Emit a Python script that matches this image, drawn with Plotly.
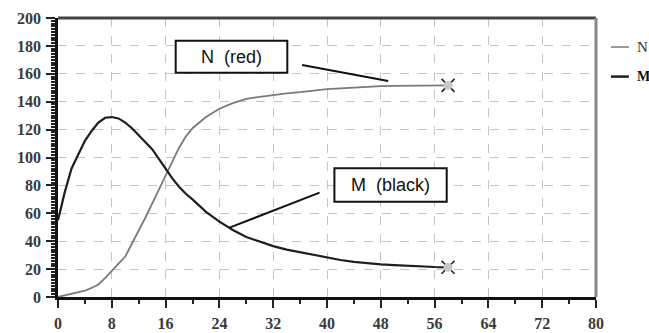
import plotly.graph_objects as go

# ---- data ----
t = [0, 1, 2, 3, 4, 5, 6, 7, 8, 9, 10, 11, 12, 13, 14, 15, 16, 17, 18, 19, 20,
     22, 24, 26, 28, 30, 32, 34, 36, 38, 40, 42, 44, 46, 48, 50, 52, 54, 56, 58]
N = [0, 1, 2, 3, 4.5, 6.5, 9, 13.5, 19, 24, 29, 38, 47, 57, 67, 77, 87, 98, 107, 115, 121,
     129, 135, 139, 142, 143.5, 145, 146, 146.8, 148, 149, 149.6, 150.2, 150.8, 151.2,
     151.3, 151.5, 151.6, 151.7, 151.7]
M = [55, 75, 92, 102, 112, 119, 125, 128.5, 129, 128, 125, 121, 116, 111, 106, 99, 92, 85,
     79, 74, 70, 61, 54, 48, 43, 39.5, 36.5, 34, 32, 30, 28, 26.5, 25.2, 24.2, 23.4,
     22.8, 22.2, 21.8, 21.5, 21.3]
x_ticks = [0, 8, 16, 24, 32, 40, 48, 56, 64, 72, 80]
y_ticks = [0, 20, 40, 60, 80, 100, 120, 140, 160, 180, 200]
series_names = ["N", "M"]
box_labels = ["N\u00a0 (red)", "M\u00a0 (black)"]

N_COLOR = "#7a7a7a"
M_COLOR = "#1e1e1e"
TICK_FONT = dict(family="Liberation Serif, serif", size=16, color="#3a3a3a", weight="bold")

fig = go.Figure()
fig.add_trace(go.Scatter(x=t, y=N, mode="lines", name=series_names[0],
                         line=dict(color=N_COLOR, width=1.8), showlegend=False))
fig.add_trace(go.Scatter(x=t, y=M, mode="lines", name=series_names[1],
                         line=dict(color=M_COLOR, width=2.2), showlegend=False))
# end markers (x marks under a grey dot -> corner marks)
for ys in (N, M):
    fig.add_trace(go.Scatter(x=[t[-1]], y=[ys[-1]], mode="markers", showlegend=False,
                             marker=dict(symbol="x-thin-open", size=13, color="#222",
                                         line=dict(width=1.6, color="#222"))))
    fig.add_trace(go.Scatter(x=[t[-1]], y=[ys[-1]], mode="markers", showlegend=False,
                             marker=dict(symbol="circle", size=9, color="#c8c8c8",
                                         line=dict(width=0))))

grid = dict(showgrid=True, gridcolor="#c4c4c4", gridwidth=1, griddash="dash")

fig.update_xaxes(range=[0, 80], tickvals=x_ticks, ticktext=[str(v) for v in x_ticks],
                 ticks="outside", ticklen=8, tickwidth=1.5, tickcolor="#222",
                 ticklabelstandoff=2,
                 showline=True, linecolor="#111", linewidth=3,
                 tickfont=TICK_FONT, zeroline=False,
                 minor=dict(dtick=4, ticks="outside", ticklen=4, tickcolor="#222", showgrid=False),
                 **grid)
fig.update_yaxes(range=[0, 200], tickvals=y_ticks, ticktext=[str(v) for v in y_ticks],
                 ticks="outside", ticklen=9, tickwidth=1.5, tickcolor="#222",
                 ticklabelstandoff=2,
                 showline=True, linecolor="#111", linewidth=2.5,
                 tickfont=TICK_FONT, zeroline=False,
                 minor=dict(dtick=2, ticks="outside", ticklen=4, tickcolor="#222", showgrid=False),
                 **grid)

shapes = [
    # top and right frame
    dict(type="line", xref="paper", yref="paper", x0=0, x1=1, y0=1, y1=1,
         line=dict(color="#444", width=3)),
    dict(type="line", xref="paper", yref="paper", x0=1, x1=1, y0=0, y1=1,
         line=dict(color="#888", width=3)),
    # label boxes
    dict(type="rect", x0=17.5, x1=34.1, y0=160.8, y1=183.7, fillcolor="white",
         line=dict(color="#111", width=2), layer="above"),
    dict(type="rect", x0=41.1, x1=57.8, y0=68.3, y1=92.3, fillcolor="white",
         line=dict(color="#111", width=2), layer="above"),
    # pointers
    dict(type="line", x0=36.3, y0=166.3, x1=49.1, y1=154.8, line=dict(color="#111", width=2)),
    dict(type="line", x0=38.9, y0=74.8, x1=25.5, y1=49.7, line=dict(color="#111", width=2)),
    # legend samples at right
    dict(type="line", xref="paper", x0=1.0278, x1=1.061, y0=179.2, y1=179.2,
         line=dict(color=N_COLOR, width=1.5)),
    dict(type="line", xref="paper", x0=1.0278, x1=1.061, y0=158.0, y1=158.0,
         line=dict(color=M_COLOR, width=2.5)),
]

annos = [
    dict(x=25.8, y=172.2, text=box_labels[0], showarrow=False,
         font=dict(family="Liberation Sans, Arial, sans-serif", size=18, color="#111")),
    dict(x=49.45, y=80.3, text=box_labels[1], showarrow=False,
         font=dict(family="Liberation Sans, Arial, sans-serif", size=18, color="#111")),
    # legend entries at right
    dict(xref="paper", x=1.0725, xanchor="left", y=179.2, yanchor="middle", showarrow=False,
         text=series_names[0],
         font=dict(family="Liberation Serif, serif", size=15, color="#333")),
    dict(xref="paper", x=1.0725, xanchor="left", y=158.0, yanchor="middle", showarrow=False,
         text=f"<b>{series_names[1]}</b>",
         font=dict(family="Liberation Serif, serif", size=14, color="#111")),
]

fig.update_layout(
    width=649, height=333,
    margin=dict(l=58, r=53, t=18, b=36, autoexpand=False),
    paper_bgcolor="white", plot_bgcolor="white",
    shapes=shapes, annotations=annos, showlegend=False,
)

fig.write_html("out.html", config={"displayModeBar": False},
               post_script="document.body.style.margin='0';document.body.style.overflow='hidden';")
